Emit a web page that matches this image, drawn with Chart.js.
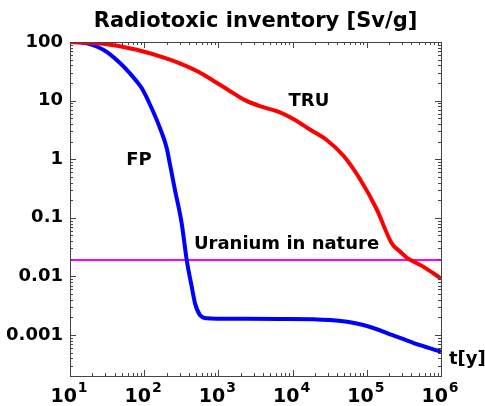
<!DOCTYPE html>
<html><head><meta charset="utf-8">
<script src="https://cdn.jsdelivr.net/npm/chart.js@4"></script>
<style>html,body{margin:0;padding:0;background:#fff}#wrap{width:485px;height:406px}</style>
</head><body><div id="wrap"><canvas id="c" width="485" height="406"></canvas></div>
<script>
const titleText = 'Radiotoxic inventory [Sv/g]';
const truYears  = [10, 28.1, 79.3, 223, 536, 899, 1360, 2280, 3830, 6410, 10800, 17100, 28800, 48200, 80900, 136000, 217000, 280000, 345000, 577000, 1000000];
const truValues = [100, 93.5, 73.9, 49.9, 31.0, 21.0, 15.2, 10.2, 7.87, 6.47, 4.67, 3.21, 2.13, 1.156, 0.459, 0.14, 0.0367, 0.0266, 0.0210, 0.0147, 0.0092];
const fpYears   = [10, 13.6, 28.1, 47.2, 79.3, 92.5, 120, 163, 201, 223, 260, 320, 374, 437, 484, 565, 695, 1000, 6760, 31900, 89700, 253000, 521000, 1000000];
const fpValues  = [100, 99, 73.9, 43.8, 21.3, 16.4, 8.51, 3.41, 1.55, 0.805, 0.298, 0.0805, 0.0191, 0.00667, 0.00347, 0.00219, 0.00193, 0.0019, 0.00188, 0.0018, 0.00148, 0.00094, 0.00067, 0.00052];
const uraniumYears  = [10, 1000000];
const uraniumValues = [0.019, 0.019];
const yTickValues = [0.001, 0.01, 0.1, 1, 10, 100];
const yTickLabels = ['0.001', '0.01', '0.1', '1', '10', '100'];
const xTickValues = [10, 100, 1000, 10000, 100000, 1000000];
const xTickExponents = ['1', '2', '3', '4', '5', '6'];
const seriesLabels = ['TRU', 'FP', 'Uranium in nature'];
const xAxisLabel = 't[y]';

const FONT = '"DejaVu Sans", sans-serif';
const pts = (xs, ys) => xs.map((x, i) => ({x: x, y: ys[i]}));

const decor = {
  id: 'decor',
  afterDraw(chart) {
    const ctx = chart.ctx, a = chart.chartArea;
    const xs = chart.scales.x, ys = chart.scales.y;
    ctx.save();
    ctx.strokeStyle = '#444';
    ctx.lineWidth = 1;
    ctx.strokeRect(Math.round(a.left) + 0.5, Math.round(a.top) + 0.5, Math.round(a.right - a.left), Math.round(a.bottom - a.top));
    ctx.beginPath();
    for (let e = 1; e <= 6; e++) {
      for (let m = 1; m <= 9; m++) {
        const v = m * Math.pow(10, e);
        if (v < xs.min || v > xs.max) continue;
        const px = Math.round(xs.getPixelForValue(v)) + 0.5;
        const L = m === 1 ? 6 : 3;
        ctx.moveTo(px, a.bottom); ctx.lineTo(px, a.bottom - L);
        ctx.moveTo(px, a.top); ctx.lineTo(px, a.top + L);
      }
    }
    for (let e = -4; e <= 2; e++) {
      for (let m = 1; m <= 9; m++) {
        const v = m * Math.pow(10, e);
        if (v < ys.min || v > ys.max * 1.0001) continue;
        const py = Math.round(ys.getPixelForValue(v)) + 0.5;
        const L = m === 1 ? 6 : 3;
        ctx.moveTo(a.left, py); ctx.lineTo(a.left + L, py);
        ctx.moveTo(a.right, py); ctx.lineTo(a.right - L, py);
      }
    }
    ctx.stroke();
    ctx.fillStyle = '#000';
    ctx.textBaseline = 'alphabetic';
    xTickValues.forEach((v, i) => {
      const px = xs.getPixelForValue(v);
      ctx.font = 'bold 19px ' + FONT;
      const w1 = ctx.measureText('10').width;
      ctx.font = 'bold 14px ' + FONT;
      const w2 = ctx.measureText(xTickExponents[i]).width;
      const x0 = px - (w1 + w2 + 1) / 2 - 1;
      ctx.font = 'bold 19px ' + FONT;
      ctx.textAlign = 'left';
      ctx.fillText('10', x0, a.bottom + 26);
      ctx.font = 'bold 14px ' + FONT;
      ctx.fillText(xTickExponents[i], x0 + w1 + 1, a.bottom + 16);
    });
    ctx.font = 'bold 21px ' + FONT;
    ctx.textAlign = 'center';
    ctx.fillText(titleText, (a.left + a.right) / 2, 27);
    ctx.font = 'bold 18px ' + FONT;
    ctx.textAlign = 'center';
    ctx.textBaseline = 'middle';
    ctx.fillText(seriesLabels[0], xs.getPixelForValue(16600), ys.getPixelForValue(9.8));
    ctx.fillText(seriesLabels[1], xs.getPixelForValue(85), ys.getPixelForValue(0.95));
    ctx.fillText(seriesLabels[2], xs.getPixelForValue(8280), ys.getPixelForValue(0.035));
    ctx.textAlign = 'left';
    ctx.fillText(xAxisLabel, a.right + 8, ys.getPixelForValue(0.00038));
    ctx.restore();
  }
};

new Chart(document.getElementById('c'), {
  type: 'line',
  data: {
    datasets: [
      {label: seriesLabels[0], data: pts(truYears, truValues), borderColor: '#ff0000', borderWidth: 4, pointRadius: 0, cubicInterpolationMode: 'monotone', fill: false},
      {label: seriesLabels[1], data: pts(fpYears, fpValues), borderColor: '#0000ff', borderWidth: 4, pointRadius: 0, cubicInterpolationMode: 'monotone', fill: false},
      {label: seriesLabels[2], data: pts(uraniumYears, uraniumValues), borderColor: '#ff00ff', borderWidth: 2, pointRadius: 0, fill: false}
    ]
  },
  options: {
    responsive: false,
    animation: false,
    devicePixelRatio: 1,
    layout: {padding: {top: 42, right: 44, left: 0, bottom: 0}},
    plugins: {legend: {display: false}, tooltip: {enabled: false}, title: {display: false}},
    scales: {
      x: {
        type: 'logarithmic', min: 10, max: 1000000,
        grid: {display: false, drawTicks: false}, border: {display: false},
        ticks: {display: false},
        afterFit: s => { s.height = 30; }
      },
      y: {
        type: 'logarithmic', min: 0.0002, max: 100,
        grid: {display: false, drawTicks: false}, border: {display: false},
        afterBuildTicks: s => { s.ticks = yTickValues.map(v => ({value: v})); },
        ticks: {
          padding: 7, color: '#000', autoSkip: false,
          font: {family: FONT, size: 18, weight: 'bold'},
          callback: (v) => { const i = yTickValues.indexOf(v); return i >= 0 ? yTickLabels[i] : ''; }
        },
        afterFit: s => { s.width = 70; }
      }
    }
  },
  plugins: [decor]
});
</script></body></html>
